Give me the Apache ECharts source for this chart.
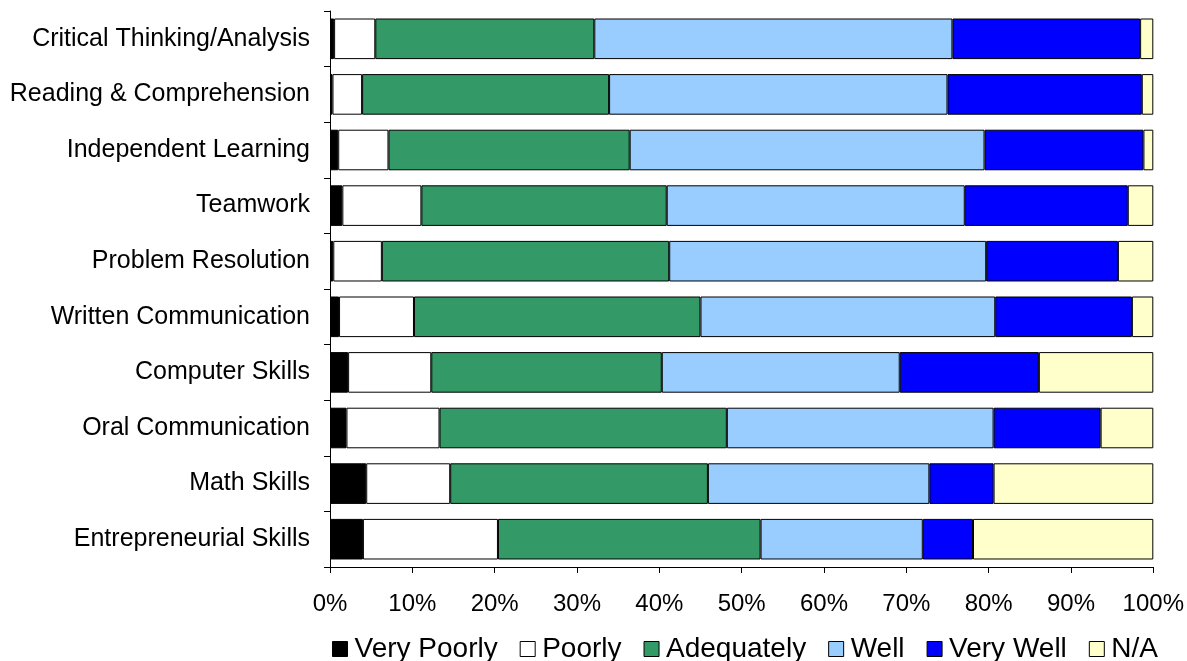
<!DOCTYPE html>
<html>
<head>
<meta charset="utf-8">
<style>
  html, body { margin: 0; padding: 0; background: #fff; }
  #chart { width: 1187px; height: 661px; }
</style>
<script src="https://cdn.jsdelivr.net/npm/echarts@6/dist/echarts.min.js"></script>
</head>
<body>
<div id="chart"></div>
<script>
// Skill areas, listed bottom to top as the category axis draws them
const categories = [
  'Entrepreneurial Skills',
  'Math Skills',
  'Oral Communication',
  'Computer Skills',
  'Written Communication',
  'Problem Resolution',
  'Teamwork',
  'Independent Learning',
  'Reading & Comprehension',
  'Critical Thinking/Analysis'
];

// Share of responses (%) per rating, same order as categories
const veryPoorly = [4.0, 4.4, 2.0, 2.2, 1.1, 0.4, 1.5, 1.0, 0.3, 0.5];
const poorly     = [16.4, 10.2, 11.3, 10.1, 9.1, 5.9, 9.6, 6.1, 3.6, 5.0];
const adequately = [31.9, 31.3, 34.9, 28.0, 34.8, 34.9, 29.8, 29.3, 30.0, 26.6];
const well       = [19.7, 26.9, 32.4, 28.9, 35.8, 38.5, 36.2, 43.1, 41.1, 43.5];
const veryWell   = [6.1, 7.8, 13.0, 16.9, 16.6, 16.0, 19.8, 19.3, 23.6, 22.8];
const notApplicable = [21.9, 19.4, 6.4, 13.9, 2.6, 4.3, 3.1, 1.2, 1.4, 1.6];

const xTicks = [0, 10, 20, 30, 40, 50, 60, 70, 80, 90, 100];

const ratings = [
  { name: 'Very Poorly', data: veryPoorly, color: '#000000' },
  { name: 'Poorly', data: poorly, color: '#FFFFFF' },
  { name: 'Adequately', data: adequately, color: '#339966' },
  { name: 'Well', data: well, color: '#99CCFF' },
  { name: 'Very Well', data: veryWell, color: '#0000FF' },
  { name: 'N/A', data: notApplicable, color: '#FFFFCC' }
];

const font = 'Liberation Sans, Arial, sans-serif';

const chart = echarts.init(document.getElementById('chart'), null, { renderer: 'canvas' });

chart.setOption({
  animation: false,
  backgroundColor: '#ffffff',
  grid: { left: 330, right: 33, top: 11, bottom: 94, containLabel: false },
  legend: {
    top: 630,
    left: 327,
    itemWidth: 15,
    itemHeight: 15,
    itemGap: 22,
    icon: 'rect',
    textStyle: { fontFamily: font, fontSize: 28, color: '#000', padding: [0, 0, 0, 2] },
    data: ratings.map(r => ({
      name: r.name,
      itemStyle: { color: r.color, borderColor: '#000', borderWidth: 1 }
    }))
  },
  xAxis: {
    type: 'value',
    min: xTicks[0],
    max: xTicks[xTicks.length - 1],
    interval: 10,
    axisLine: { show: true, lineStyle: { color: '#000', width: 1 } },
    axisTick: { show: true, length: 6, inside: false, lineStyle: { color: '#000' } },
    splitLine: { show: false },
    axisLabel: {
      margin: 25,
      fontFamily: font,
      fontSize: 24,
      color: '#000',
      formatter: v => v + '%'
    }
  },
  yAxis: {
    type: 'category',
    data: categories,
    axisLine: { show: true, lineStyle: { color: '#000', width: 1 } },
    axisTick: { show: true, length: 6, lineStyle: { color: '#000' } },
    axisLabel: {
      margin: 20,
      fontFamily: font,
      fontSize: 25,
      color: '#000'
    }
  },
  series: ratings.map(r => ({
    name: r.name,
    type: 'bar',
    stack: 'total',
    barWidth: '73%',
    data: r.data,
    itemStyle: { color: r.color, borderColor: '#000', borderWidth: 1 },
    emphasis: { disabled: true }
  }))
});
</script>
</body>
</html>
